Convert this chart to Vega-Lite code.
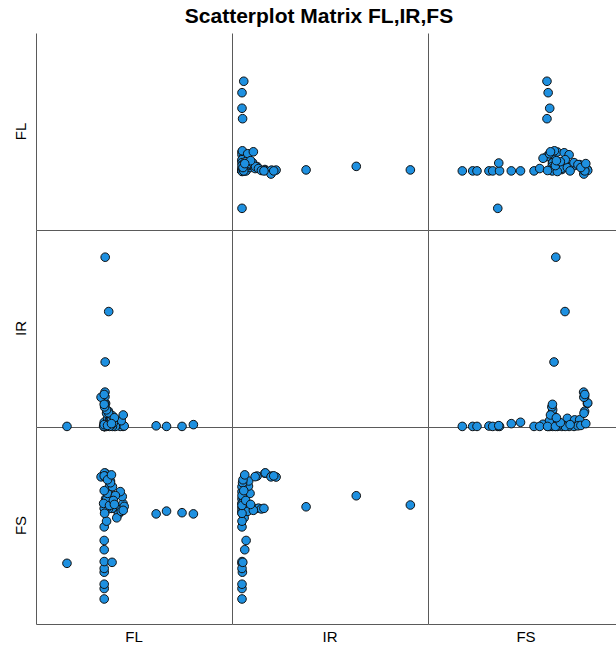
{
  "$schema": "https://vega.github.io/schema/vega-lite/v6.json",
  "padding": {"left": 14, "right": 0, "top": 6, "bottom": 2},
  "title": {"text": "Scatterplot Matrix FL,IR,FS", "font": "Liberation Sans", "fontSize": 21, "fontWeight": "bold", "color": "#000000", "offset": 6, "anchor": "middle"},
  "data": {"values": [
    {"FL": 80.3, "IR": 6.0, "FS": 60.7},
    {"FL": 74.5, "IR": 5.1, "FS": 61.3},
    {"FL": 66.6, "IR": 5.1, "FS": 62.1},
    {"FL": 61.3, "IR": 5.4, "FS": 60.7},
    {"FL": 35.3, "IR": 37.8, "FS": 64.3},
    {"FL": 37.1, "IR": 63.4, "FS": 69.9},
    {"FL": 35.3, "IR": 91.0, "FS": 65.2},
    {"FL": 15.8, "IR": 5.1, "FS": 35.6},
    {"FL": 34.8, "IR": 5.1, "FS": 17.5},
    {"FL": 34.8, "IR": 5.1, "FS": 22.8},
    {"FL": 34.8, "IR": 5.1, "FS": 25.0},
    {"FL": 34.8, "IR": 5.3, "FS": 31.1},
    {"FL": 34.8, "IR": 5.1, "FS": 33.0},
    {"FL": 34.8, "IR": 5.1, "FS": 36.5},
    {"FL": 38.8, "IR": 5.5, "FS": 36.1},
    {"FL": 34.8, "IR": 6.5, "FS": 42.5},
    {"FL": 34.8, "IR": 7.2, "FS": 47.2},
    {"FL": 34.8, "IR": 5.1, "FS": 54.1},
    {"FL": 35.5, "IR": 5.1, "FS": 68.3},
    {"FL": 36.0, "IR": 6.3, "FS": 68.0},
    {"FL": 37.0, "IR": 6.8, "FS": 71.8},
    {"FL": 36.5, "IR": 9.2, "FS": 71.1},
    {"FL": 37.5, "IR": 8.4, "FS": 74.8},
    {"FL": 38.0, "IR": 8.5, "FS": 77.4},
    {"FL": 37.0, "IR": 12.8, "FS": 79.9},
    {"FL": 36.0, "IR": 11.8, "FS": 79.6},
    {"FL": 35.5, "IR": 16.8, "FS": 81.3},
    {"FL": 35.0, "IR": 17.0, "FS": 81.5},
    {"FL": 35.2, "IR": 20.2, "FS": 79.9},
    {"FL": 33.2, "IR": 19.9, "FS": 79.5},
    {"FL": 35.2, "IR": 22.5, "FS": 79.4},
    {"FL": 34.8, "IR": 21.3, "FS": 80.0},
    {"FL": 40.0, "IR": 5.1, "FS": 63.6},
    {"FL": 41.5, "IR": 6.0, "FS": 63.4},
    {"FL": 42.5, "IR": 7.5, "FS": 63.8},
    {"FL": 38.5, "IR": 9.0, "FS": 63.5},
    {"FL": 39.0, "IR": 10.5, "FS": 63.6},
    {"FL": 37.0, "IR": 12.0, "FS": 63.3},
    {"FL": 36.0, "IR": 13.5, "FS": 63.6},
    {"FL": 35.0, "IR": 15.0, "FS": 63.2},
    {"FL": 34.8, "IR": 16.3, "FS": 63.5},
    {"FL": 44.4, "IR": 5.1, "FS": 66.0},
    {"FL": 44.0, "IR": 5.5, "FS": 69.5},
    {"FL": 43.0, "IR": 5.1, "FS": 72.0},
    {"FL": 42.0, "IR": 6.0, "FS": 60.5},
    {"FL": 41.2, "IR": 6.2, "FS": 58.7},
    {"FL": 45.0, "IR": 5.3, "FS": 64.5},
    {"FL": 43.5, "IR": 8.0, "FS": 62.0},
    {"FL": 40.5, "IR": 5.1, "FS": 70.0},
    {"FL": 39.0, "IR": 5.1, "FS": 74.5},
    {"FL": 38.0, "IR": 5.4, "FS": 76.5},
    {"FL": 36.0, "IR": 5.1, "FS": 57.0},
    {"FL": 35.0, "IR": 5.1, "FS": 61.0},
    {"FL": 34.5, "IR": 5.2, "FS": 66.0},
    {"FL": 34.8, "IR": 6.0, "FS": 72.5},
    {"FL": 37.5, "IR": 5.1, "FS": 65.0},
    {"FL": 39.5, "IR": 7.0, "FS": 67.5},
    {"FL": 44.5, "IR": 10.9, "FS": 62.5},
    {"FL": 40.0, "IR": 9.5, "FS": 65.5},
    {"FL": 36.5, "IR": 5.6, "FS": 78.0},
    {"FL": 38.5, "IR": 6.5, "FS": 80.5}
  ]},
  "transform": [
    {"fold": ["FL", "IR", "FS"], "as": ["xvar", "xval"]},
    {"fold": ["FL", "IR", "FS"], "as": ["yvar", "yval"]}
  ],
  "facet": {
    "row": {"field": "yvar", "type": "nominal", "sort": ["FL", "IR", "FS"],
      "header": {"title": null, "labelAngle": -90, "labelOrient": "left", "labelFont": "Liberation Sans", "labelFontSize": 15, "labelColor": "#000000", "labelPadding": 0}},
    "column": {"field": "xvar", "type": "nominal", "sort": ["FL", "IR", "FS"],
      "header": {"title": null, "labelOrient": "bottom", "labelFont": "Liberation Sans", "labelFontSize": 15, "labelColor": "#000000", "labelPadding": 6}}
  },
  "spacing": 0,
  "bounds": "flush",
  "spec": {
    "width": 196,
    "height": 197,
    "mark": {"type": "circle", "fill": "#1e90e0", "stroke": "#111111", "strokeWidth": 1, "size": 74},
    "encoding": {
      "x": {"field": "xval", "type": "quantitative", "scale": {"domain": [0, 100], "nice": false, "zero": false},
        "axis": {"title": null, "labels": false, "ticks": false, "tickSize": 0, "labelPadding": 0, "minExtent": 0, "maxExtent": 0, "offset": 0, "grid": false, "domain": true, "domainColor": "#5a5a5a", "domainWidth": 1}},
      "y": {"field": "yval", "type": "quantitative", "scale": {"domain": [4.8, 104.8], "nice": false, "zero": false},
        "axis": {"title": null, "labels": false, "ticks": false, "tickSize": 0, "labelPadding": 0, "minExtent": 0, "maxExtent": 0, "offset": 0, "grid": false, "domain": true, "domainColor": "#5a5a5a", "domainWidth": 1}},
      "opacity": {"condition": {"test": "datum.xvar === datum.yvar", "value": 0}, "value": 1}
    }
  },
  "resolve": {"axis": {"x": "independent", "y": "independent"}},
  "config": {"view": {"stroke": null}}
}
